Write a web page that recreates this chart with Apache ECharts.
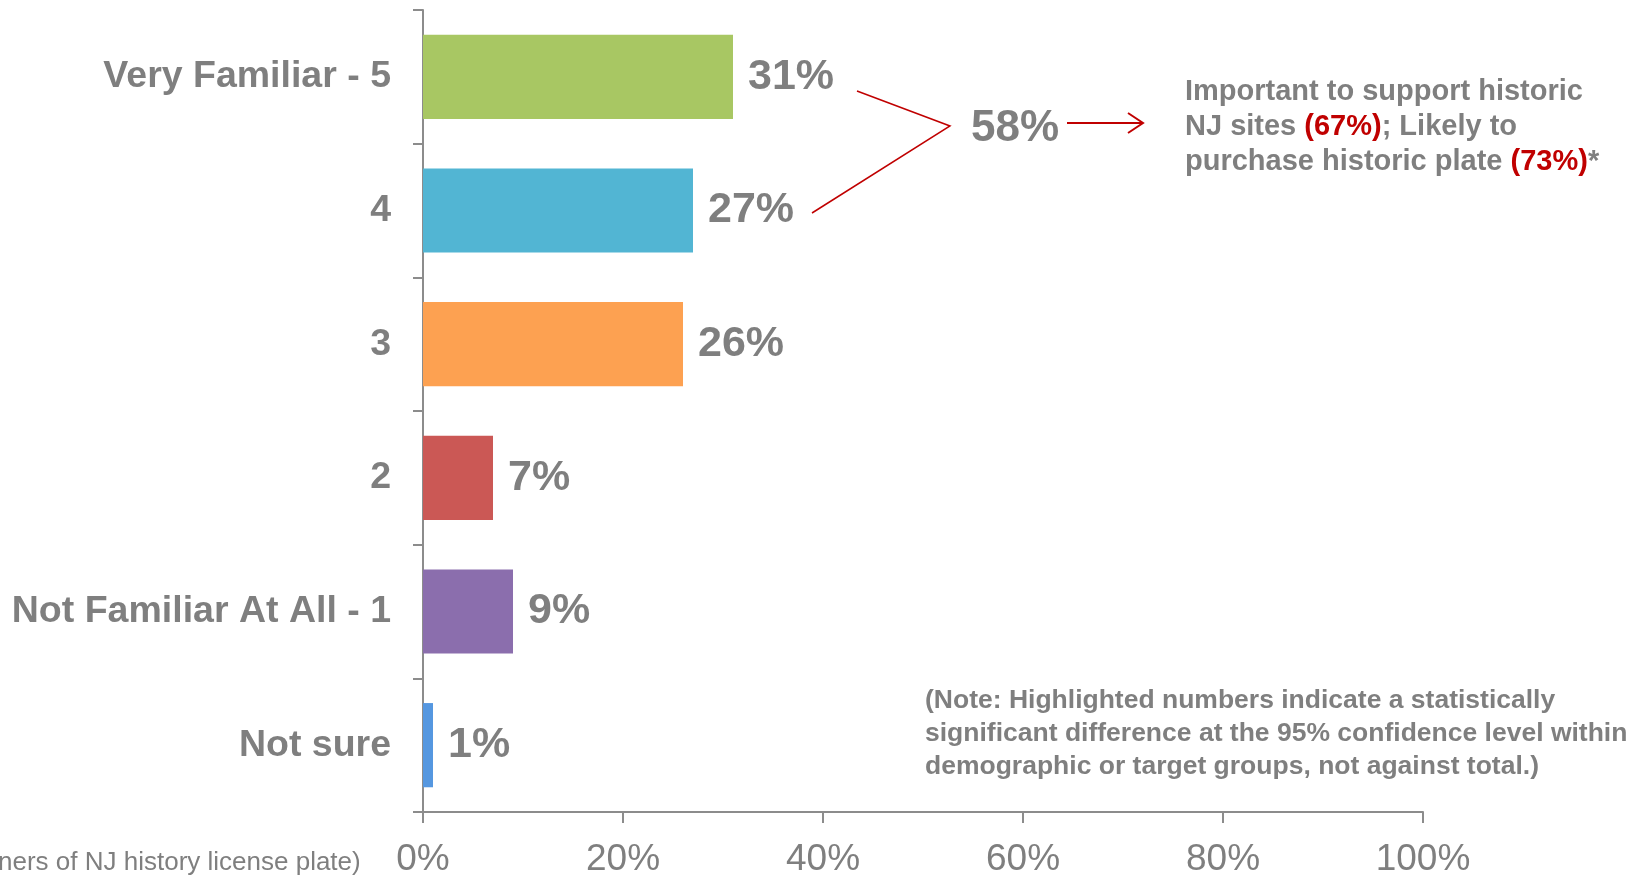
<!DOCTYPE html>
<html>
<head>
    <meta charset="UTF-8">
    <title>Familiarity Bar Chart</title>
    <script src="https://cdn.jsdelivr.net/npm/echarts@6/dist/echarts.min.js"></script>
    <style>
        html, body { margin: 0; padding: 0; background: #fff; }
    </style>
</head>
<body>
    <div id="main" style="width: 1647px;height:876px;"></div>
    <script type="text/javascript">
        // data
        var categories = ['Very Familiar - 5', '4', '3', '2', 'Not Familiar At All - 1', 'Not sure'];
        var values = [31, 27, 26, 7, 9, 1];
        var barColors = ['#A8C763', '#52B5D3', '#FDA151', '#CB5855', '#8B6EAD', '#5597E0'];
        var xTicks = [0, 20, 40, 60, 80, 100];

        var gray = '#7F7F7F';
        var red = '#C00000';
        var myChart = echarts.init(document.getElementById('main'));

        var option = {
            backgroundColor: '#fff',
            animation: false,
            grid: { left: 423, right: 224, top: 10, bottom: 64, containLabel: false, outerBoundsMode: 'none' },
            xAxis: {
                type: 'value',
                min: xTicks[0],
                max: xTicks[xTicks.length - 1],
                interval: 20,
                splitLine: { show: false },
                axisLine: { show: true, lineStyle: { color: '#8C8C8C', width: 2 } },
                axisTick: { show: true, length: 11, lineStyle: { color: '#8C8C8C', width: 2 } },
                axisLabel: {
                    formatter: '{value}%',
                    color: gray,
                    fontFamily: 'Liberation Sans',
                    fontSize: 37,
                    margin: 29
                }
            },
            yAxis: {
                type: 'category',
                inverse: true,
                data: categories,
                axisLine: { show: true, lineStyle: { color: '#8C8C8C', width: 2 } },
                axisTick: { show: true, length: 10, lineStyle: { color: '#8C8C8C', width: 2 } },
                axisLabel: {
                    color: gray,
                    fontFamily: 'Liberation Sans',
                    fontWeight: 'bold',
                    fontSize: 37.5,
                    margin: 32,
                    padding: [7, 0, 0, 0]
                }
            },
            series: [{
                type: 'bar',
                barWidth: '63%',
                data: values.map(function (v, i) {
                    return { value: v, itemStyle: { color: barColors[i] } };
                }),
                label: {
                    show: true,
                    position: 'right',
                    distance: 15,
                    formatter: '{c}%',
                    color: gray,
                    fontFamily: 'Liberation Sans',
                    fontWeight: 'bold',
                    fontSize: 43,
                    padding: [12, 0, 0, 0]
                }
            }],
            graphic: [
                // bracket joining top two bars
                {
                    type: 'polyline',
                    shape: { points: [[857, 91], [950, 126], [812, 213]] },
                    style: { stroke: red, lineWidth: 1.5, fill: null }
                },
                {
                    type: 'text',
                    left: 971, top: 107,
                    style: {
                        text: '58%',
                        fill: gray,
                        font: 'bold 44px "Liberation Sans"'
                    }
                },
                // arrow
                {
                    type: 'line',
                    shape: { x1: 1067, y1: 123, x2: 1143, y2: 123 },
                    style: { stroke: red, lineWidth: 2 }
                },
                {
                    type: 'polyline',
                    shape: { points: [[1128, 113], [1143, 123], [1128, 133]] },
                    style: { stroke: red, lineWidth: 2, fill: null }
                },
                {
                    type: 'text',
                    left: 1185, top: 77,
                    style: {
                        rich: {
                            g: { fill: gray, font: 'bold 29px "Liberation Sans"', lineHeight: 35 },
                            r: { fill: red, font: 'bold 29px "Liberation Sans"', lineHeight: 35 }
                        },
                        text: '{g|Important to support historic}\n{g|NJ sites }{r|(67%)}{g|; Likely to}\n{g|purchase historic plate }{r|(73%)}{g|*}'
                    }
                },
                {
                    type: 'text',
                    left: 925, top: 684,
                    style: {
                        text: '(Note: Highlighted numbers indicate a statistically\nsignificant difference at the 95% confidence level within\ndemographic or target groups, not against total.)',
                        fill: gray,
                        font: 'bold 26.5px "Liberation Sans"',
                        lineHeight: 33
                    }
                },
                {
                    type: 'text',
                    left: -2, top: 850,
                    style: {
                        text: 'ners of NJ history license plate)',
                        fill: gray,
                        font: '26px "Liberation Sans"'
                    }
                }
            ]
        };

        myChart.setOption(option);
    </script>
</body>
</html>
